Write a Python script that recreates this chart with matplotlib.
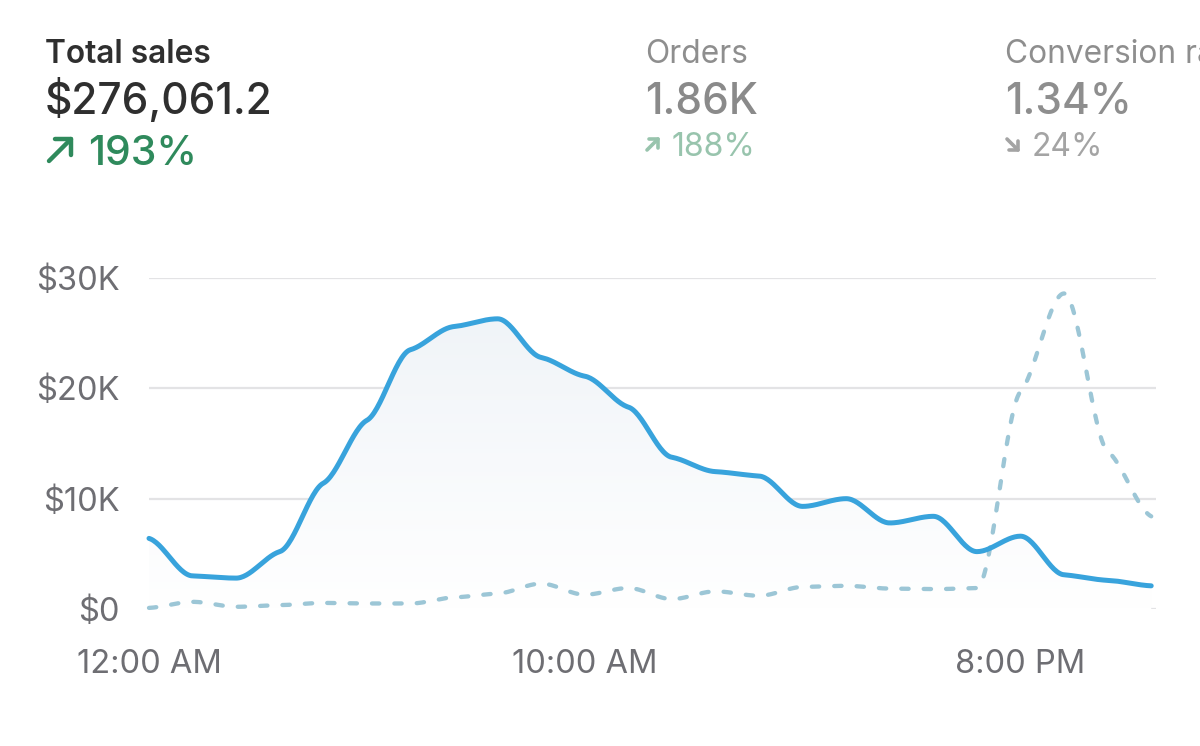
import numpy as np
import matplotlib
matplotlib.use('Agg')
import matplotlib.pyplot as plt
from matplotlib.colors import LinearSegmentedColormap
from matplotlib.lines import Line2D

# hourly sales (thousands of $), today and the comparison period
hours = np.arange(24)
sales_today = [6.4, 3.0, 2.8, 5.2, 11.4, 17.1, 23.5, 25.6, 26.3, 22.8, 21.1, 18.3,
               13.75, 12.45, 12.05, 9.3, 10.0, 7.8, 8.4, 5.2, 6.6, 3.1, 2.6, 2.1]
sales_prev = [0.1, 0.65, 0.2, 0.35, 0.55, 0.5, 0.5, 1.05, 1.4, 2.3, 1.3, 1.9,
              0.9, 1.6, 1.2, 2.0, 2.1, 1.85, 1.8, 1.9, 19.7, 28.6, 14.3, 8.4]

x_ticks = [0, 10, 20]
x_labels = ['12:00 AM', '10:00 AM', '8:00 PM']
y_ticks = [0, 10, 20, 30]
y_labels = ['$0', '$10K', '$20K', '$30K']

# header metrics
titles = ['Total sales', 'Orders', 'Conversion rate']
values = ['$276,061.2', '1.86K', '1.34%']
deltas = ['193%', '188%', '24%']

FONT = ['Inter', 'DejaVu Sans']
plt.rcParams['font.family'] = FONT

W, H = 1200, 746


def smooth(x, y, k=0.35, n=30):
    # cubic hermite with damped monotone tangents, only to draw the curve
    x = np.asarray(x, float)
    y = np.asarray(y, float)
    h = np.diff(x)
    d = np.diff(y) / h
    m = np.zeros_like(y)
    for i in range(1, len(x) - 1):
        if d[i - 1] * d[i] > 0:
            w1 = 2 * h[i] + h[i - 1]
            w2 = h[i] + 2 * h[i - 1]
            m[i] = (w1 + w2) / (w1 / d[i - 1] + w2 / d[i])
    m[0] = d[0]
    m[-1] = d[-1]
    m = m * k
    xs, ys = [], []
    for i in range(len(x) - 1):
        t = np.linspace(0, 1, n, endpoint=False)
        h00 = 2 * t**3 - 3 * t**2 + 1
        h10 = t**3 - 2 * t**2 + t
        h01 = -2 * t**3 + 3 * t**2
        h11 = t**3 - t**2
        xs.append(x[i] + t * h[i])
        ys.append(h00 * y[i] + h10 * h[i] * m[i] + h01 * y[i + 1] + h11 * h[i] * m[i + 1])
    xs.append([x[-1]])
    ys.append([y[-1]])
    return np.concatenate(xs), np.concatenate(ys)


def px(x, y):
    return x / W, 1 - y / H


def arrow(x0, y0, x1, y1, head, color, lw):
    # small arrow drawn from x0,y0 (tail) to x1,y1 (tip), pixel coords
    sx = np.sign(x1 - x0)
    sy = np.sign(y1 - y0)
    parts = (([x0, x1], [y0, y1]),
             ([x1 - sx * head, x1, x1], [y1, y1, y1 - sy * head]))
    for a, b in parts:
        fx = [v / W for v in a]
        fy = [1 - v / H for v in b]
        fig.add_artist(Line2D(fx, fy, color=color, lw=lw, solid_capstyle='round',
                              solid_joinstyle='round', transform=fig.transFigure))


fig = plt.figure(figsize=(12, 7.46), dpi=100)
fig.patch.set_facecolor('white')

ax = fig.add_axes([149 / W, 1 - 609 / H, (1156 - 149) / W, (609 - 278) / H])
ax.set_xlim(0, 23.11)
ax.set_ylim(0, 30)
for s in ax.spines.values():
    s.set_visible(False)

for yv in y_ticks:
    ax.axhline(yv, color='#e3e3e5', lw=1.6, zorder=0)

xs, ys = smooth(hours, sales_today)
xp, yp = smooth(hours, sales_prev)

# gradient fill under today's curve
poly = ax.fill_between(xs, ys, 0, color='none', lw=0)
cmap = LinearSegmentedColormap.from_list('g', ['#ffffff', '#f0f4f8'])
grad = np.linspace(0, 1, 256).reshape(-1, 1)
im = ax.imshow(grad, cmap=cmap, aspect='auto', origin='lower',
               extent=[0, 23, 0, 26.5], zorder=1)
im.set_clip_path(poly.get_paths()[0], transform=ax.transData)

ax.plot(xp, yp, color='#9cc6d6', lw=3.1, ls=(0, (1.7, 3.5)),
        dash_capstyle='round', zorder=2, clip_on=False)
ax.plot(xs, ys, color='#38a3dc', lw=3.6, solid_capstyle='round', zorder=3, clip_on=False)

ax.set_xticks(x_ticks)
ax.set_xticklabels(x_labels)
ax.set_yticks(y_ticks)
ax.set_yticklabels(y_labels)
ax.tick_params(axis='both', length=0, labelsize=23.5, labelcolor='#6e6e73')
ax.tick_params(axis='y', pad=21)
ax.tick_params(axis='x', pad=29)

# header
cols = [45, 645, 1005]
title_colors = ['#2f2f2f', '#8e8e8e', '#8e8e8e']
value_colors = ['#2f2f2f', '#8a8a8a', '#8e8e8e']
delta_colors = ['#2f8a5c', '#98c4ad', '#a4a4a4']
delta_sizes = [29.5, 23, 23]
delta_base = [165, 156, 156]
num_offset = [43, 27, 27]
for i in range(3):
    x0 = cols[i]
    fig.text(*px(x0, 62.7), titles[i], fontsize=22.8, color=title_colors[i],
             fontweight='semibold' if i == 0 else 'normal', va='baseline')
    fig.text(*px(x0, 114.5), values[i], fontsize=30.5, color=value_colors[i],
             fontweight='medium', va='baseline')
    fig.text(*px(x0 + num_offset[i], delta_base[i]), deltas[i], fontsize=delta_sizes[i],
             color=delta_colors[i], fontweight='medium' if i == 0 else 'normal', va='baseline')

# trend arrows
arrow(49, 161, 71, 139, 16, delta_colors[0], 3.2)
arrow(647, 150, 658, 139, 9, delta_colors[1], 2.6)
arrow(1007, 139, 1018, 150, 9, delta_colors[2], 2.6)

fig.savefig('out.png', dpi=100)
